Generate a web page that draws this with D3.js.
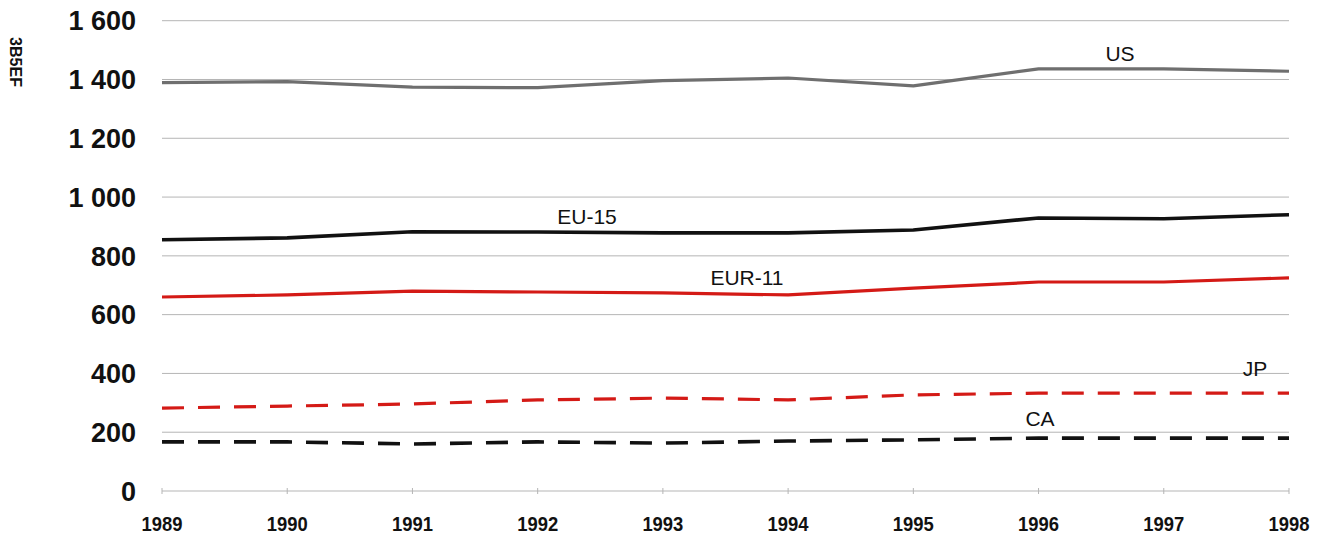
<!DOCTYPE html>
<html>
<head>
<meta charset="utf-8">
<script src="https://cdn.jsdelivr.net/npm/d3@7"></script>
<style>
  html, body { margin: 0; padding: 0; background: #ffffff; }
  svg { display: block; }
</style>
</head>
<body>
<svg id="chart" width="1317" height="536"></svg>
<script>
// ---- data ----
const years = [1989, 1990, 1991, 1992, 1993, 1994, 1995, 1996, 1997, 1998];
const yTicks = [0, 200, 400, 600, 800, 1000, 1200, 1400, 1600];
const usValues   = [1389, 1393, 1374, 1372, 1396, 1405, 1378, 1436, 1436, 1428];
const eu15Values = [855, 861, 882, 881, 878, 878, 888, 929, 926, 940];
const eur11Values = [660, 667, 680, 677, 674, 667, 690, 711, 711, 725];
const jpValues   = [282, 289, 296, 310, 316, 310, 327, 333, 333, 333];
const caValues   = [167, 167, 160, 167, 163, 170, 174, 180, 180, 180];
const seriesNames = ["US", "EU-15", "EUR-11", "JP", "CA"];
const axisTitle = "3B5EF";

const series = [
  { name: seriesNames[0], values: usValues,    color: "#6f6f6f", width: 3.2, dash: null,    label: { x: 1120, y: 53 } },
  { name: seriesNames[1], values: eu15Values,  color: "#111111", width: 3.6, dash: null,    label: { x: 587, y: 216 } },
  { name: seriesNames[2], values: eur11Values, color: "#d41a16", width: 3.2, dash: null,    label: { x: 747, y: 277 } },
  { name: seriesNames[3], values: jpValues,    color: "#d41a16", width: 3.2, dash: "22,14", label: { x: 1255, y: 368 } },
  { name: seriesNames[4], values: caValues,    color: "#111111", width: 3.6, dash: "22,14", label: { x: 1040, y: 418 } }
];

const svg = d3.select("#chart");
const plotLeft = 162, plotRight = 1289, plotTop = 20.7, plotBottom = 491;

const x = d3.scalePoint().domain(years).range([plotLeft, plotRight]);
const y = d3.scaleLinear().domain([0, 1600]).range([plotBottom, plotTop]);

// gridlines
svg.append("g")
  .selectAll("line")
  .data(yTicks)
  .join("line")
  .attr("x1", plotLeft).attr("x2", plotRight)
  .attr("y1", d => y(d)).attr("y2", d => y(d))
  .attr("stroke", "#b5b5b5")
  .attr("stroke-width", 1);

// small year ticks on baseline
svg.append("g")
  .selectAll("line")
  .data(years)
  .join("line")
  .attr("x1", d => x(d)).attr("x2", d => x(d))
  .attr("y1", y(0) - 3).attr("y2", y(0) + 3)
  .attr("stroke", "#b5b5b5")
  .attr("stroke-width", 1);

// y tick labels
const fmt = d => d >= 1000 ? Math.floor(d / 1000) + " " + d3.format("03d")(d % 1000) : String(d);
svg.append("g")
  .selectAll("text")
  .data(yTicks)
  .join("text")
  .attr("x", 136)
  .attr("y", d => y(d))
  .attr("dy", "0.36em")
  .attr("text-anchor", "end")
  .attr("font-family", "Liberation Sans, Arial, sans-serif")
  .attr("font-weight", "bold")
  .attr("font-size", 27)
  .attr("fill", "#111")
  .text(fmt);

// x tick labels
svg.append("g")
  .selectAll("text")
  .data(years)
  .join("text")
  .attr("x", d => x(d))
  .attr("y", 531)
  .attr("text-anchor", "middle")
  .attr("font-family", "Liberation Sans, Arial, sans-serif")
  .attr("font-weight", "bold")
  .attr("font-size", 20)
  .attr("textLength", 41)
  .attr("lengthAdjust", "spacingAndGlyphs")
  .attr("fill", "#111")
  .text(d => d);

// rotated axis title
svg.append("text")
  .attr("transform", "translate(10,62) rotate(90)")
  .attr("text-anchor", "middle")
  .attr("font-family", "Liberation Sans, Arial, sans-serif")
  .attr("font-weight", "bold")
  .attr("font-size", 16)
  .attr("fill", "#111")
  .text(axisTitle);

// lines
const line = d3.line()
  .x((d, i) => x(years[i]))
  .y(d => y(d));

svg.append("g")
  .selectAll("path")
  .data(series)
  .join("path")
  .attr("d", s => line(s.values))
  .attr("fill", "none")
  .attr("stroke", s => s.color)
  .attr("stroke-width", s => s.width)
  .attr("stroke-dasharray", s => s.dash)
  .attr("stroke-linejoin", "round");

// series labels
svg.append("g")
  .selectAll("text")
  .data(series)
  .join("text")
  .attr("x", s => s.label.x)
  .attr("y", s => s.label.y)
  .attr("dy", "0.36em")
  .attr("text-anchor", "middle")
  .attr("font-family", "Liberation Sans, Arial, sans-serif")
  .attr("font-size", 21)
  .attr("fill", "#111")
  .text(s => s.name);
</script>
</body>
</html>
